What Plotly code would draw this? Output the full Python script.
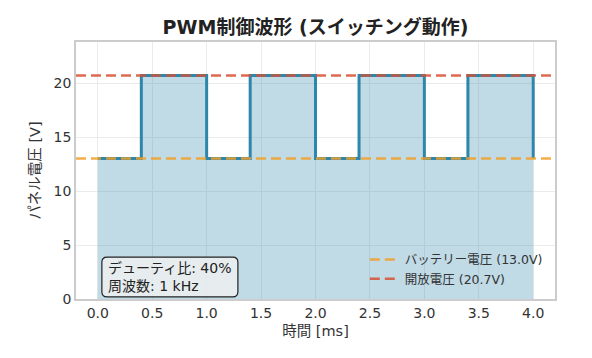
import plotly.graph_objects as go

# ---- data ----
time_ms = [0.0, 0.4, 1.0, 1.4, 2.0, 2.4, 3.0, 3.4, 4.0]
voltage_v = [13.0, 20.7, 13.0, 20.7, 13.0, 20.7, 13.0, 20.7, 13.0]
battery_v = 13.0
open_v = 20.7
battery_label = "バッテリー電圧 (13.0V)"
open_label = "開放電圧 (20.7V)"
info_lines = ["デューティ比: 40%", "周波数: 1 kHz"]
x_ticks = [0.0, 0.5, 1.0, 1.5, 2.0, 2.5, 3.0, 3.5, 4.0]
y_ticks = [0, 5, 10, 15, 20]

FONT = "DejaVu Sans, Noto Sans CJK JP, sans-serif"
LINE_C = "#2E86AB"

fig = go.Figure()

fig.add_trace(go.Scatter(
    x=time_ms, y=voltage_v, mode="lines", line_shape="hv",
    line=dict(color=LINE_C, width=3),
    fill="tozeroy", fillcolor="rgba(46,134,171,0.30)",
    showlegend=False, hoverinfo="skip"))

x_span = [-0.2, 4.2]
fig.add_trace(go.Scatter(
    x=x_span, y=[battery_v, battery_v], mode="lines",
    line=dict(color="rgba(241,160,40,0.85)", width=2.5, dash="10px,5px"),
    name=battery_label))
fig.add_trace(go.Scatter(
    x=x_span, y=[open_v, open_v], mode="lines",
    line=dict(color="rgba(214,80,50,0.85)", width=2.5, dash="10px,5px"),
    name=open_label))

# rounded info box (paper coords = plot area)
x0, x1, y0, y1 = 0.054, 0.338, 0.008, 0.163
rx, ry = 0.011, 0.02
path = (f"M {x0+rx},{y0} L {x1-rx},{y0} Q {x1},{y0} {x1},{y0+ry} "
        f"L {x1},{y1-ry} Q {x1},{y1} {x1-rx},{y1} L {x0+rx},{y1} "
        f"Q {x0},{y1} {x0},{y1-ry} L {x0},{y0+ry} Q {x0},{y0} {x0+rx},{y0} Z")
fig.add_shape(type="path", path=path, xref="paper", yref="paper",
              fillcolor="rgba(240,240,240,0.8)", line=dict(color="#222", width=1.2),
              layer="above")
fig.add_annotation(x=x0 + 0.008, y=(y0 + y1) / 2, xref="paper", yref="paper",
                   xanchor="left", yanchor="middle", align="left", showarrow=False,
                   text="<br>".join(info_lines),
                   font=dict(family=FONT, size=14, color="#222"))

fig.update_layout(
    width=584, height=350,
    margin=dict(l=68, r=37, t=34, b=59),
    paper_bgcolor="white", plot_bgcolor="white",
    font=dict(family=FONT, size=13, color="#333"),
    title=dict(text="<b>PWM制御波形 (スイッチング動作)</b>", x=0.5, xref="paper",
               xanchor="center", y=0.946, yanchor="middle",
               font=dict(family=FONT, size=19, color="#222")),
    legend=dict(x=0.985, y=0.02, xanchor="right", yanchor="bottom",
                bgcolor="rgba(0,0,0,0)", font=dict(family=FONT, size=12.5, color="#333"),
                itemwidth=30, tracegroupgap=0),
    showlegend=True,
)
fig.update_xaxes(range=x_span, tickvals=x_ticks, ticktext=[f"{v:.1f}" for v in x_ticks],
                 showgrid=True, gridcolor="#ebebeb", gridwidth=1, zeroline=False,
                 showline=True, linecolor="#cccccc", linewidth=1.5, mirror=True,
                 ticks="", tickfont=dict(size=14, color="#333"), automargin=False,
                 title=dict(text="時間 [ms]", font=dict(size=14.5, color="#333"), standoff=6))
fig.update_yaxes(range=[0, 23.8], tickvals=y_ticks,
                 showgrid=True, gridcolor="#ebebeb", gridwidth=1, zeroline=False,
                 showline=True, linecolor="#cccccc", linewidth=1.5, mirror=True,
                 ticks="", tickfont=dict(size=14, color="#333"), automargin=False,
                 title=dict(text="パネル電圧 [V]", font=dict(size=14.5, color="#333"), standoff=10))

fig.write_html("out.html")
